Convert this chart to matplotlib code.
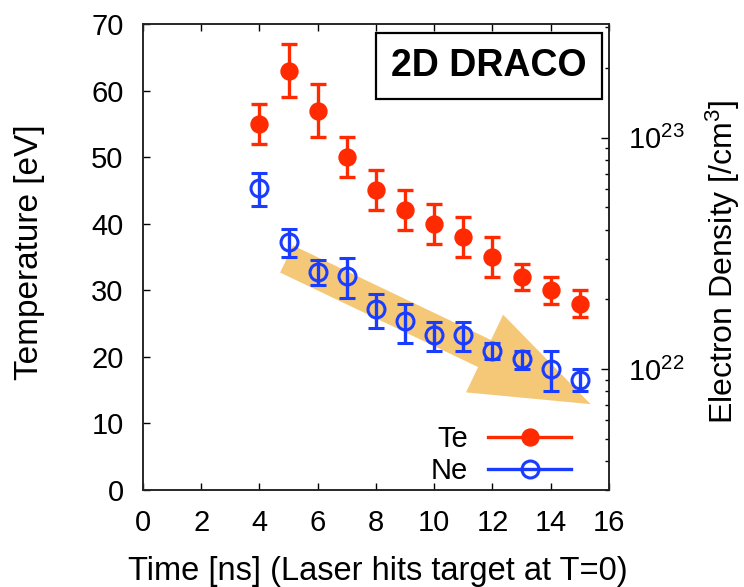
import matplotlib
matplotlib.use("Agg")
import matplotlib.pyplot as plt
from matplotlib.lines import Line2D
from matplotlib.ticker import LogLocator, NullFormatter, MultipleLocator

plt.rcParams["font.family"] = ["Liberation Sans", "DejaVu Sans"]
plt.rcParams["mathtext.fontset"] = "custom"
plt.rcParams["mathtext.rm"] = "Liberation Sans"
plt.rcParams["mathtext.it"] = "Liberation Sans:italic"

# data
time_ns = [4, 5, 6, 7, 8, 9, 10, 11, 12, 13, 14, 15]
te_ev = [55, 63, 57, 50, 45, 42, 40, 38, 35, 32, 30, 28]
te_err = [3, 4, 4, 3, 3, 3, 3, 3, 3, 2, 2, 2]
ne_cm3 = [6.05e22, 3.55e22, 2.64e22, 2.53e22, 1.81e22, 1.61e22,
          1.40e22, 1.40e22, 1.20e22, 1.10e22, 1.00e22, 0.90e22]
ne_err = [1.0e22, 0.5e22, 0.33e22, 0.5e22, 0.3e22, 0.31e22,
          0.2e22, 0.2e22, 0.1e22, 0.1e22, 0.2e22, 0.1e22]

# arrow (time, temperature-axis units): tail -> tip
arrow_tail = (4.93, 34.7)
arrow_tip = (15.37, 12.9)

ROJO = "#ff2a00"
AZUL = "#1a3cff"
NARANJA = "#f5c878"
FS_TICK = 21
FS_LABEL = 23.5

fig = plt.figure(figsize=(7.44, 5.87), dpi=100)
ax = fig.add_axes([0.1922, 0.1652, 0.6263, 0.7939])
ax2 = ax.twinx()

ax.set_xlim(0, 16)
ax.set_ylim(0, 70)
ax.xaxis.set_major_locator(MultipleLocator(2))
ax.yaxis.set_major_locator(MultipleLocator(10))
ax.tick_params(axis="both", direction="in", length=5, width=1,
               labelsize=FS_TICK, pad=14, top=True, right=False)

ax2.set_yscale("log")
ax2.set_ylim(3.0e21, 3.1e23)
ax2.yaxis.set_major_locator(LogLocator(base=10))
ax2.yaxis.set_minor_locator(LogLocator(base=10, subs=range(2, 10)))
ax2.yaxis.set_minor_formatter(NullFormatter())
ax2.tick_params(axis="y", which="major", direction="in", length=6, width=1,
                labelsize=FS_TICK, pad=14)
ax2.tick_params(axis="y", which="minor", direction="in", length=3, width=1)

for a in (ax, ax2):
    for s in a.spines.values():
        s.set_linewidth(1.1)
        s.set_color("#222222")

# Te on the left axis
ax.errorbar(time_ns, te_ev, yerr=te_err, fmt="o", color=ROJO, ms=12.2,
            elinewidth=2.4, capsize=6, capthick=2.4, zorder=3)

# arrow below the Ne points
ax2.annotate("", xy=arrow_tip, xytext=arrow_tail,
             xycoords=ax.transData, textcoords=ax.transData,
             arrowprops=dict(arrowstyle="simple,head_length=8.46,head_width=6.2,tail_width=2.16",
                             mutation_scale=10, shrinkA=0, shrinkB=0,
                             fc=NARANJA, ec="none"),
             zorder=1)

# Ne on the right (log) axis
ax2.errorbar(time_ns, ne_cm3, yerr=ne_err, fmt="o", color=AZUL, mfc="none",
             ms=12.2, mew=2.2, elinewidth=2.4, capsize=6, capthick=2.4, zorder=3)

ax.set_xlabel("Time [ns] (Laser hits target at T=0)", fontsize=FS_LABEL)
ax.set_ylabel("Temperature [eV]", fontsize=24)
ax2.set_ylabel("Electron Density [/cm$^3$]", fontsize=23)
ax.xaxis.set_label_coords(0.503, -0.142)
ax.yaxis.set_label_coords(-0.21, 0.51)
ax2.yaxis.set_label_coords(1.203, 0.49)

ax.text(0.742, 0.910, "2D DRACO", transform=ax.transAxes, fontsize=27,
        fontweight="bold", ha="center", va="center",
        bbox=dict(boxstyle="square,pad=0.4", fc="white", ec="black", lw=1.6))

handles = [
    Line2D([], [], color=ROJO, lw=2.4, marker="o", ms=12.2),
    Line2D([], [], color=AZUL, lw=2.4, marker="o", ms=12.2, mfc="none", mew=2.2),
]
ax2.legend(handles, ["Te", "Ne"], loc="center", bbox_to_anchor=(0.768, 0.075),
           frameon=False, fontsize=FS_TICK, markerfirst=False, handlelength=2.85,
           handletextpad=0.69, labelspacing=0.15, borderpad=0.2)

fig.savefig("out.png", dpi=100)
